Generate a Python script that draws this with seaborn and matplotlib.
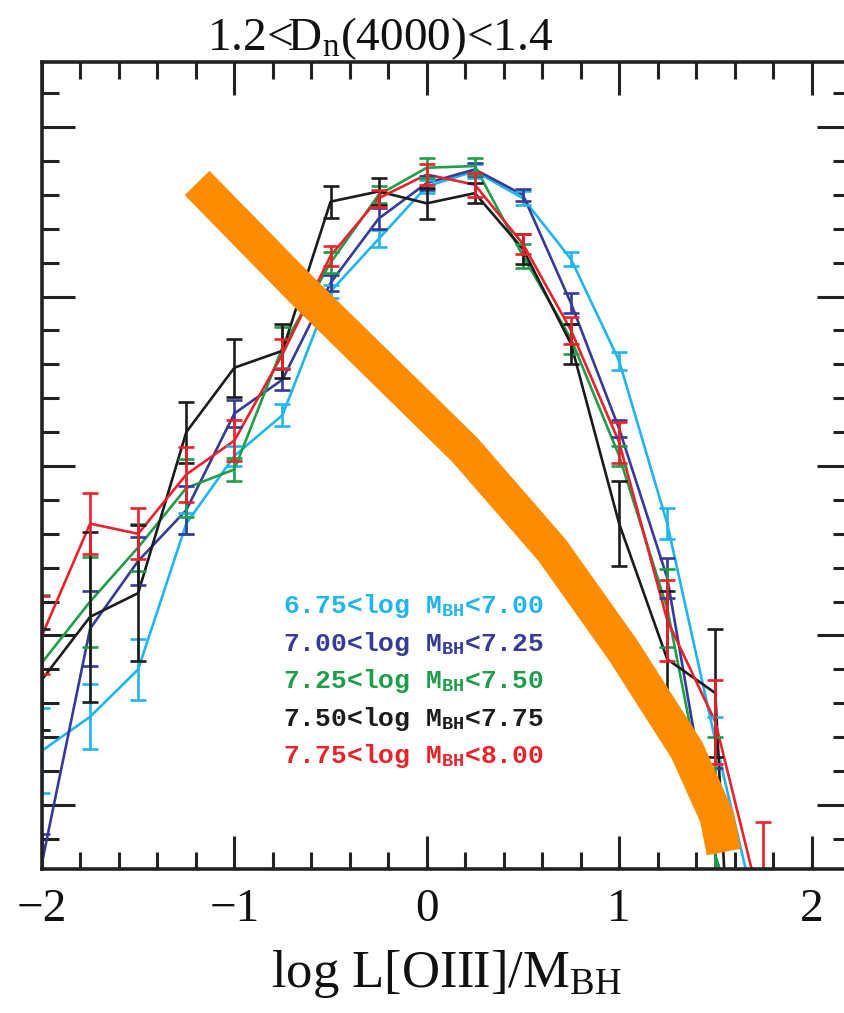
import numpy as np
import pandas as pd
import matplotlib
matplotlib.use("Agg")
import matplotlib.pyplot as plt
import seaborn as sns
from matplotlib.ticker import MultipleLocator, FixedLocator, FixedFormatter

# ---------------- data ----------------
x_vals = [-2.0, -1.75, -1.5, -1.25, -1.0, -0.75, -0.5, -0.25, 0.0, 0.25, 0.5, 0.75, 1.0, 1.25, 1.5, 1.75]

labels = [
    "6.75<log M$_{\\mathtt{BH}}$<7.00",
    "7.00<log M$_{\\mathtt{BH}}$<7.25",
    "7.25<log M$_{\\mathtt{BH}}$<7.50",
    "7.50<log M$_{\\mathtt{BH}}$<7.75",
    "7.75<log M$_{\\mathtt{BH}}$<8.00",
]
colors = ["#22b4ec", "#363b98", "#1f9e4a", "#1c1c1c", "#e8232b"]

y_675 = [1.6, 2.6, 4.0, 8.3, 10.3, 11.5, 15.15, 16.7, 18.25, 18.7, 17.9, 16.1, 13.1, 8.3, 1.9, -4.1]
e_675 = [1.25, 0.96, 0.9, 0.3, 0.3, 0.33, 0.2, 0.25, 0.2, 0.2, 0.2, 0.2, 0.27, 0.46, 0.7, np.nan]

y_700 = [-1.7, 5.2, 7.2, 8.7, 11.55, 12.55, 15.4, 17.3, 18.35, 18.75, 18.0, 14.8, 11.1, 6.7, -1.5, -6.0]
e_700 = [0.85, 1.1, 0.7, 0.7, 0.4, 0.3, 0.25, 0.3, 0.2, 0.2, 0.18, 0.3, 0.25, 0.6, 2.6, np.nan]

y_725 = [4.2, 6.0, 7.6, 9.35, 9.9, 13.5, 16.0, 18.0, 18.8, 18.85, 16.2, 13.75, 10.3, 5.8, -1.5, -6.0]
e_725 = [2.0, 1.33, 0.7, 0.85, 0.35, 0.6, 0.3, 0.25, 0.3, 0.25, 0.35, 0.45, 0.3, 1.15, 3.5, np.nan]

y_750 = [3.7, 5.55, 6.25, 11.0, 12.9, 13.4, 17.8, 18.1, 17.75, 18.05, 16.4, 13.6, 8.3, 4.3, 3.3, -25.0]
e_750 = [1.5, 2.5, 2.0, 0.9, 0.85, 0.8, 0.47, 0.4, 0.45, 0.3, 0.45, 0.6, 1.25, 2.0, 1.9, np.nan]

y_775 = [5.0, 8.3, 8.0, 9.75, 10.75, 13.3, 16.2, 17.9, 18.6, 18.3, 16.55, 14.0, 10.7, 5.45, 2.45, -3.3]
e_775 = [1.15, 0.9, 0.75, 0.8, 0.6, 0.45, 0.3, 0.25, 0.3, 0.35, 0.3, 0.4, 0.6, 1.2, 1.24, 2.8]

series_y = [y_675, y_700, y_725, y_750, y_775]
series_e = [e_675, e_700, e_725, e_750, e_775]

# orange overlay stroke
orange_x = [-1.194, -0.633, -0.103, 0.199, 0.651, 1.020, 1.352, 1.508, 1.544]
orange_y = [18.35, 15.10, 12.15, 10.47, 7.52, 4.57, 1.62, -0.35, -1.39]

xtick_vals = [-2, -1, 0, 1, 2]
xtick_labels = ["\u22122", "\u22121", "0", "1", "2"]

# ---------------- style ----------------
sns.set_theme(style="ticks")
plt.rcParams['font.family'] = ['Liberation Serif', 'DejaVu Serif']
plt.rcParams['mathtext.fontset'] = 'custom'
plt.rcParams['mathtext.rm'] = 'Liberation Serif'
plt.rcParams['mathtext.it'] = 'Liberation Serif:italic'
plt.rcParams['mathtext.bf'] = 'Liberation Serif:bold'
plt.rcParams['mathtext.tt'] = 'Liberation Mono:bold'

W, H = 844, 1013
fig = plt.figure(figsize=(W / 100, H / 100), dpi=100)
ax = fig.add_axes([42 / W, (H - 869) / H, 808 / W, 807 / H])

rows = []
for lab, ys in zip(labels, series_y):
    for xv, yv in zip(x_vals, ys):
        rows.append({"x": xv, "y": yv, "bin": lab})
df = pd.DataFrame(rows)

sns.lineplot(data=df, x="x", y="y", hue="bin", hue_order=labels,
             palette=colors, legend=False, errorbar=None, lw=1.9, ax=ax)

for ys, es, c in zip(series_y, series_e, colors):
    ax.errorbar(x_vals, ys, yerr=es, fmt="none", ecolor=c, elinewidth=1.9,
                capsize=6, capthick=1.9)

ax.plot(orange_x, orange_y, color="#fd8c00", lw=25, solid_capstyle="butt",
        solid_joinstyle="round", zorder=10)

ax.set_xlim(-2.0, 2.2)
ax.set_ylim(-1.89, 21.92)

ax.xaxis.set_major_locator(FixedLocator(xtick_vals))
ax.xaxis.set_major_formatter(FixedFormatter(xtick_labels))
ax.xaxis.set_minor_locator(MultipleLocator(0.2))
ax.yaxis.set_major_locator(MultipleLocator(5))
ax.yaxis.set_minor_locator(MultipleLocator(1))

ax.tick_params(which="both", direction="in", top=True, right=True,
               colors="#222222", labelcolor="#111111")
ax.tick_params(which="major", length=24, width=2.2, labelsize=34, pad=14)
ax.tick_params(which="minor", length=12, width=2.2)
ax.tick_params(axis="y", labelleft=False)
for s in ax.spines.values():
    s.set_linewidth(2.6)
    s.set_color("#222222")

ax.set_xlabel("log L[OIII]/M$_{\\mathrm{BH}}$", fontsize=38, labelpad=12, color="#111111")
ax.set_ylabel("")
ax.set_title("1.2<D$_{\\mathrm{n}}$(4000)<1.4", fontsize=34, x=(380 - 42) / 808,
             pad=4, color="#111111")

y0 = 613
for i, (lab, c) in enumerate(zip(labels, colors)):
    fig.text(283 / W, 1 - (y0 + i * 37.6) / H, lab, color=c, fontsize=19,
             family=["Liberation Mono", "DejaVu Sans Mono"], fontweight="bold",
             va="baseline", ha="left")

fig.savefig("out.png", dpi=100)
